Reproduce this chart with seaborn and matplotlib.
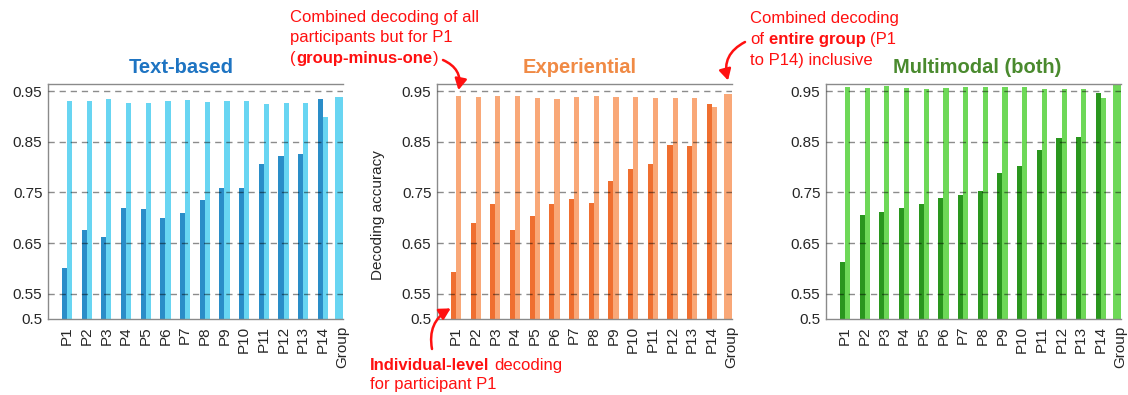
import matplotlib
matplotlib.use("Agg")
import matplotlib.pyplot as plt
import numpy as np
import pandas as pd
import seaborn as sns

# ---------------- data ----------------
participants = [f"P{i}" for i in range(1, 15)]
categories = participants + ["Group"]

text_individual = [0.600, 0.676, 0.661, 0.719, 0.717, 0.699, 0.709, 0.734,
                   0.758, 0.758, 0.806, 0.822, 0.826, 0.935]
text_minus_one = [0.931, 0.930, 0.934, 0.927, 0.926, 0.931, 0.933, 0.928,
                  0.930, 0.930, 0.924, 0.926, 0.926, 0.899]
text_group = 0.939

exp_individual = [0.593, 0.689, 0.727, 0.676, 0.703, 0.728, 0.736, 0.730,
                  0.772, 0.797, 0.806, 0.843, 0.841, 0.924]
exp_minus_one = [0.941, 0.938, 0.940, 0.941, 0.936, 0.935, 0.938, 0.940,
                 0.938, 0.938, 0.937, 0.936, 0.936, 0.918]
exp_group = 0.945

multi_individual = [0.613, 0.705, 0.711, 0.719, 0.727, 0.739, 0.744, 0.752,
                    0.788, 0.802, 0.833, 0.857, 0.860, 0.947]
multi_minus_one = [0.959, 0.957, 0.960, 0.957, 0.954, 0.956, 0.959, 0.959,
                   0.959, 0.958, 0.954, 0.954, 0.954, 0.936]
multi_group = 0.966

titles = ["Text-based", "Experiential", "Multimodal (both)"]
ytick_values = [0.5, 0.55, 0.65, 0.75, 0.85, 0.95]
ytick_labels = ["0.5", "0.55", "0.65", "0.75", "0.85", "0.95"]
grid_values = [0.55, 0.65, 0.75, 0.85, 0.95]

# ---------------- style ----------------
sns.set_theme(style="white")
plt.rcParams["font.family"] = ["Liberation Sans", "DejaVu Sans"]

W, H = 1128, 395
fig = plt.figure(figsize=(W / 100, H / 100), dpi=100)


def fx(px):
    return px / W


def fy(py):
    return 1 - py / H


panels = [
    dict(title=titles[0], tcolor="#1E74C2", dark="#2A8DC8", light="#68D5F2",
         ind=text_individual, m1=text_minus_one, grp=text_group,
         left=48, title_x=181),
    dict(title=titles[1], tcolor="#F08A45", dark="#EF6F30", light="#F9A878",
         ind=exp_individual, m1=exp_minus_one, grp=exp_group,
         left=437, title_x=580),
    dict(title=titles[2], tcolor="#4A8A2E", dark="#2A961E", light="#6ED858",
         ind=multi_individual, m1=multi_minus_one, grp=multi_group,
         left=826, title_x=977),
]

ax_w = 295
ax_top, ax_bot = 84, 319
axes = []
for p in panels:
    ax = fig.add_axes([fx(p["left"]), fy(ax_bot), fx(ax_w), (ax_bot - ax_top) / H])
    axes.append(ax)
    df = pd.DataFrame({
        "participant": participants * 2,
        "kind": ["Individual"] * 14 + ["Group-minus-one"] * 14,
        "acc": p["ind"] + p["m1"],
    })
    sns.barplot(data=df, x="participant", y="acc", hue="kind", order=categories,
                hue_order=["Individual", "Group-minus-one"],
                palette=[p["dark"], p["light"]], width=0.52, gap=0, dodge=True,
                saturation=1, errorbar=None, legend=False, linewidth=0, ax=ax)
    sns.barplot(x=["Group"], y=[p["grp"]], order=categories, color=p["light"],
                width=0.74, saturation=1, errorbar=None, linewidth=0, ax=ax)

    ax.set_xlim(-0.965, 14.02)
    ax.set_ylim(0.5, 0.964)
    ax.set_yticks(ytick_values)
    ax.set_yticklabels(ytick_labels)
    ax.set_xlabel("")
    ax.set_ylabel("")
    for g in grid_values:
        ax.axhline(g, color="black", alpha=0.45, lw=1.0, ls=(0, (4.5, 3.5)), zorder=5)
    ax.tick_params(axis="x", rotation=90, length=0, labelsize=11,
                   labelcolor="#262626", pad=5)
    ax.tick_params(axis="y", length=0, labelsize=11, labelcolor="#262626", pad=4)
    for s in ["left", "bottom", "top"]:
        ax.spines[s].set_color("#8a8a8a")
        ax.spines[s].set_linewidth(1.0)
    ax.spines["right"].set_visible(False)
    ax.text((p["title_x"] - p["left"]) / ax_w, (ax_bot - 68) / (ax_bot - ax_top),
            p["title"], transform=ax.transAxes, ha="center", va="center",
            fontsize=14.5, fontweight="bold", color=p["tcolor"])

fig.text(fx(378), fy(215), "Decoding accuracy", rotation=90, ha="center",
         va="center", fontsize=11, color="#262626")

# ---------------- annotations ----------------
RED = "#FF1010"
FS = 12
renderer = fig.canvas.get_renderer()


def rich_line(x, y_center, parts):
    """parts: list of (text, weight, gap_px); all pieces share one baseline."""
    y_base = y_center + 5
    cur_x = x
    for text, weight, gap in parts:
        cur_x += gap
        t = fig.text(fx(cur_x), fy(y_base), text, fontweight=weight, color=RED,
                     fontsize=FS, ha="left", va="baseline")
        bb = t.get_window_extent(renderer)
        cur_x = bb.x1


rich_line(290, 17, [("Combined decoding of all", "normal", 0)])
rich_line(290, 37, [("participants but for P1", "normal", 0)])
rich_line(290, 58, [("(", "normal", 0), ("group-minus-one", "bold", 0.5),
                    (")", "normal", 0.5)])

rich_line(750, 18, [("Combined decoding", "normal", 0)])
rich_line(750, 39, [("of", "normal", 0), ("entire group", "bold", 4.6),
                    ("(P1", "normal", 4.6)])
rich_line(750, 60, [("to P14) inclusive", "normal", 0)])

rich_line(370, 365, [("Individual-level", "bold", 0), ("decoding", "normal", 4.6)])
rich_line(370, 384, [("for participant P1", "normal", 0)])

arrow_kw = dict(arrowstyle="-|>,head_length=0.55,head_width=0.3", color=RED,
                lw=1.8, shrinkA=0, shrinkB=0)
ax2 = axes[1]
ax2.annotate("", xy=(0.125, 0.952), xycoords="data",
             xytext=(fx(443), fy(60)), textcoords="figure fraction",
             arrowprops=dict(connectionstyle="arc3,rad=-0.4", **arrow_kw),
             annotation_clip=False)
ax2.annotate("", xy=(13.82, 0.971), xycoords="data",
             xytext=(fx(745), fy(42)), textcoords="figure fraction",
             arrowprops=dict(connectionstyle="arc3,rad=0.4", **arrow_kw),
             annotation_clip=False)
ax2.annotate("", xy=(-0.27, 0.521), xycoords="data",
             xytext=(fx(432), fy(349)), textcoords="figure fraction",
             arrowprops=dict(connectionstyle="arc3,rad=-0.35", **arrow_kw),
             annotation_clip=False)

fig.savefig("out.png", dpi=100)
